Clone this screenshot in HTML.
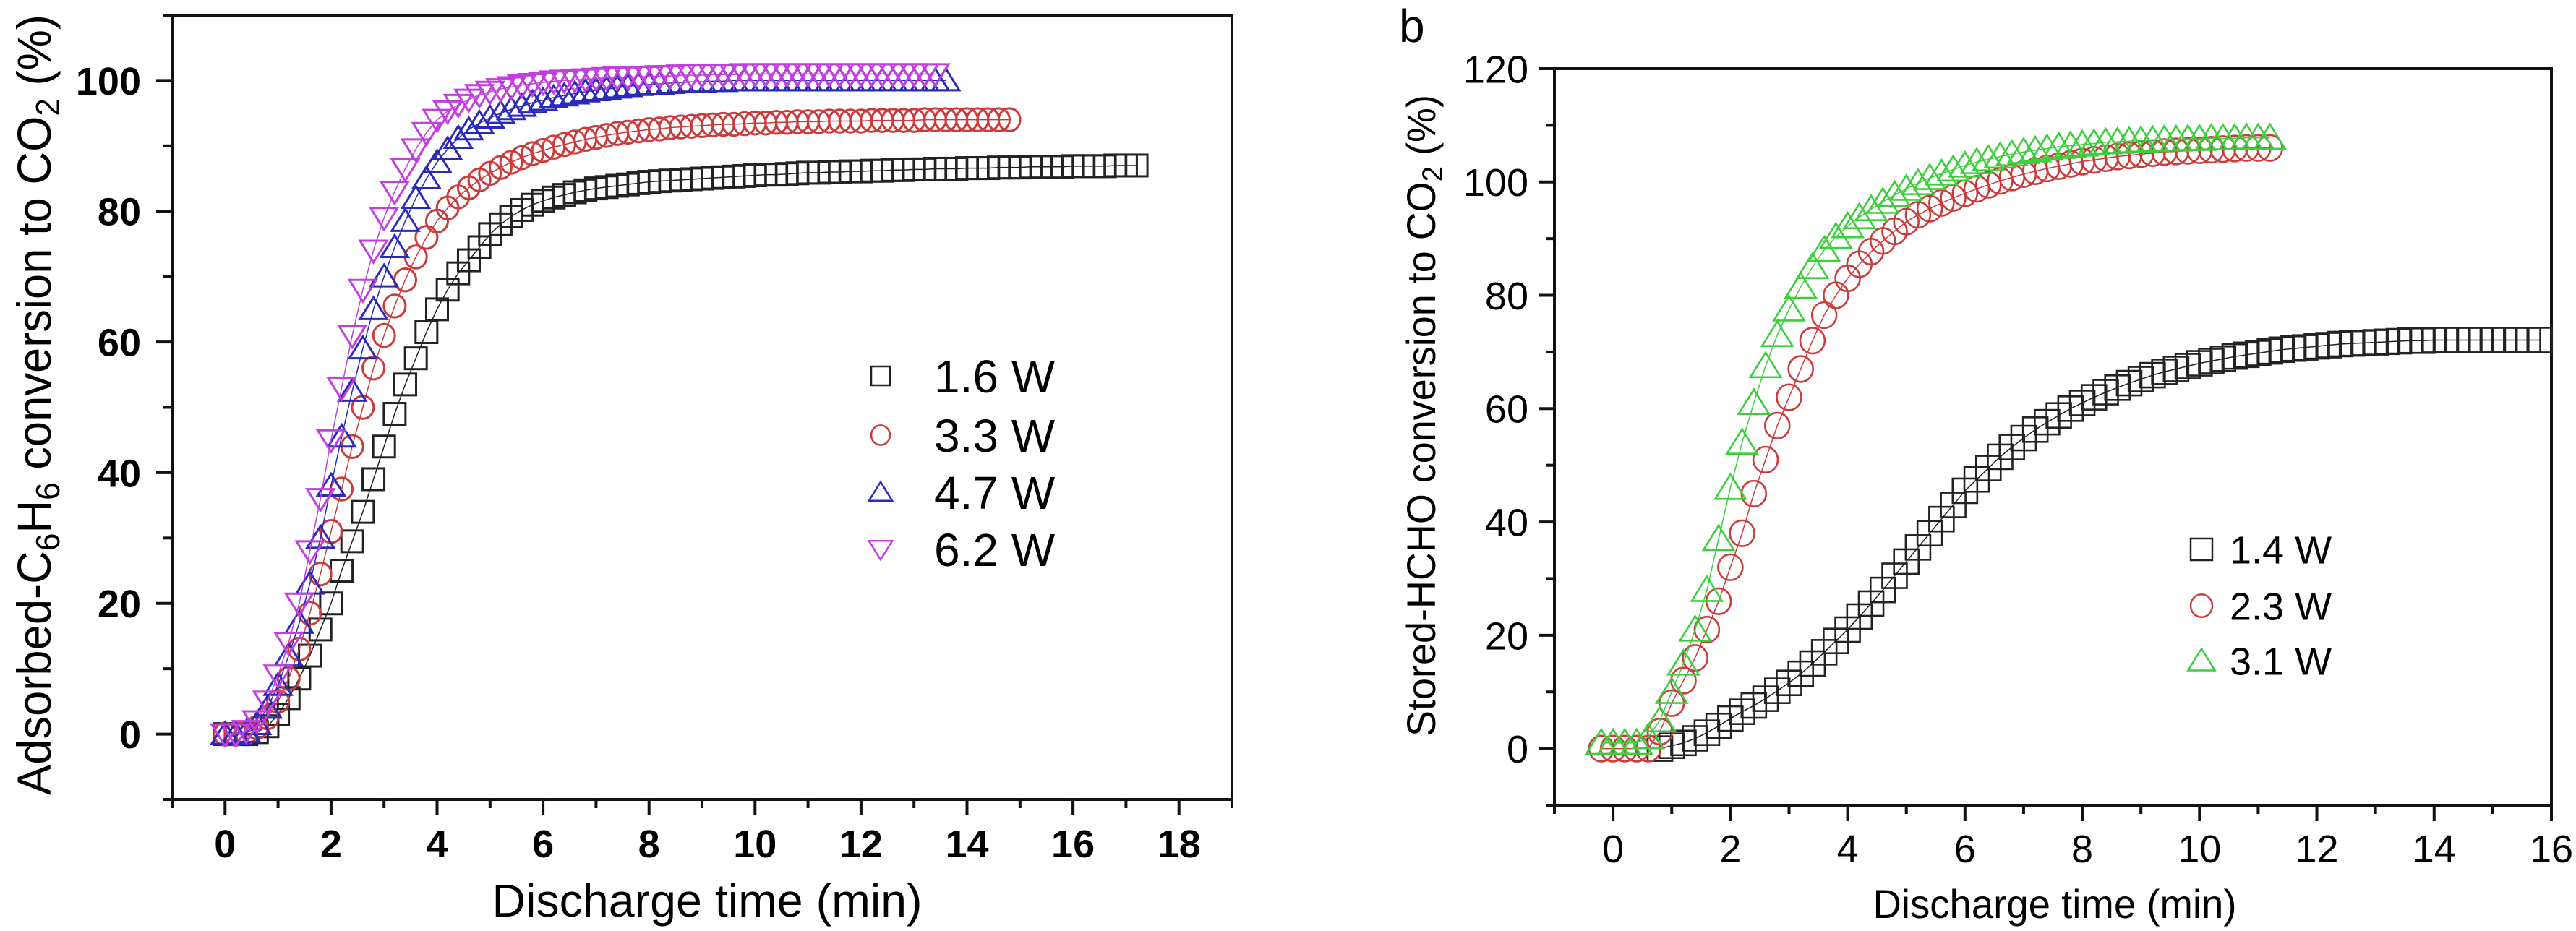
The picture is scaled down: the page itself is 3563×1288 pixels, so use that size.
<!DOCTYPE html>
<html><head><meta charset="utf-8"><style>
html,body{margin:0;padding:0;background:#fff;}
svg{display:block;}
text{font-family:"Liberation Sans Narrow","Liberation Sans",sans-serif;}
</style></head><body>
<svg id="fig" width="3563" height="1288" viewBox="0 0 3563 1288" xmlns="http://www.w3.org/2000/svg">
<rect width="3563" height="1288" fill="#fff"/>
<g id="pa"></g>
<g id="pb"></g>
<text x="1935" y="58" font-size="64" font-family="Liberation Sans, sans-serif">b</text>
<text x="978" y="1268" font-size="64" text-anchor="middle" textLength="595" lengthAdjust="spacingAndGlyphs">Discharge time (min)</text>
<text transform="translate(70,560) rotate(-90)" font-size="66" text-anchor="middle" textLength="1080" lengthAdjust="spacingAndGlyphs">Adsorbed-C<tspan font-size="46" dy="12">6</tspan><tspan dy="-12">H</tspan><tspan font-size="46" dy="12">6</tspan><tspan dy="-12"> conversion to CO</tspan><tspan font-size="46" dy="12">2</tspan><tspan dy="-12"> (%)</tspan></text>
<text x="2842" y="1270" font-size="56" text-anchor="middle" textLength="503" lengthAdjust="spacingAndGlyphs">Discharge time (min)</text>
<text transform="translate(1985,575) rotate(-90)" font-size="56" text-anchor="middle" textLength="888" lengthAdjust="spacingAndGlyphs">Stored-HCHO conversion to CO<tspan font-size="40" dy="10">2</tspan><tspan dy="-10"> (%)</tspan></text>
</svg>
<script>
// ---- Panel A data ----
const aXTicks = [0,2,4,6,8,10,12,14,16,18];
const aYTicks = [0,20,40,60,80,100];
const aLabels = ["1.6 W","3.3 W","4.7 W","6.2 W"];
const aStep = 0.2;
const a16 = [0,0,0,0.3,1.2,3,5.5,8.5,12,16,20,25,29.5,34,39,44,49,53.5,57.5,61.5,65,68,70.5,72.5,74.5,76.5,78,79.2,80.2,81,81.6,82.1,82.5,82.9,83.2,83.5,83.7,83.9,84.1,84.3,84.5,84.6,84.7,84.8,84.9,85,85.1,85.2,85.3,85.4,85.5,85.6,85.6,85.7,85.8,85.9,85.9,86,86,86.1,86.1,86.2,86.2,86.3,86.3,86.4,86.4,86.5,86.5,86.5,86.6,86.6,86.6,86.7,86.7,86.7,86.8,86.8,86.8,86.8,86.9,86.9,86.9,86.9,87,87,87];
const a33 = [0,0,0.2,1,2.5,5,8.5,13,18.5,24.5,31,37.5,44,50,56,61,65.5,69.5,73,76,78.5,80.5,82.2,83.6,84.8,85.8,86.7,87.5,88.2,88.8,89.3,89.8,90.2,90.6,91,91.3,91.6,91.9,92.1,92.3,92.5,92.6,92.8,92.9,93,93.1,93.2,93.3,93.3,93.4,93.5,93.5,93.6,93.6,93.7,93.7,93.7,93.8,93.8,93.8,93.8,93.9,93.9,93.9,93.9,93.9,94,94,94,94,94,94,94,94,94];
const a47 = [0,0,0.3,1.5,4,7.5,12,17,23,30,38,45.5,52.5,59,65,70,74.5,78.5,82,85,87.5,89.5,91.2,92.5,93.5,94.3,95,95.6,96.1,96.6,97,97.4,97.7,98,98.3,98.5,98.7,98.9,99.1,99.3,99.4,99.5,99.6,99.7,99.8,99.8,99.9,99.9,100,100,100,100,100,100,100,100,100,100,100,100,100,100,100,100,100,100,100,100,100];
const a62 = [0,0,0.5,2,5,9,14,20,28,36,45,53,61,68,74,79,83,86.5,89.5,92,94,95.3,96.3,97.1,97.8,98.3,98.7,99,99.3,99.5,99.7,99.9,100,100.1,100.2,100.3,100.4,100.5,100.5,100.6,100.6,100.7,100.7,100.8,100.8,100.8,100.9,100.9,100.9,101,101,101,101,101,101,101,101,101,101,101,101,101,101,101,101,101,101,101];
// ---- Panel B data ----
const bXTicks = [0,2,4,6,8,10,12,14,16];
const bYTicks = [0,20,40,60,80,100,120];
const bLabels = ["1.4 W","2.3 W","3.1 W"];
const bStep = 0.2;
const b14Start = 0.8;
const b14 = [0,0.5,1,1.8,2.8,4,5.3,6.5,7.6,8.8,10.2,11.6,13.2,15,17,19,21,23.3,25.6,28,30.5,33,35.5,38,40.5,43,45.5,47.5,49.5,51.5,53.2,54.8,56.3,57.6,58.8,60,61,62,62.9,63.7,64.5,65.2,65.9,66.5,67,67.5,68,68.4,68.8,69.2,69.5,69.8,70.1,70.4,70.6,70.8,71,71.2,71.4,71.5,71.6,71.7,71.8,71.9,72,72,72.1,72.1,72.1,72.1,72.1,72.1,72.1,72.1,72.1,72.1];
const b23Start = -0.2;
const b23 = [0,0,0,0,0,3,8,12,16,21,26,32,38,45,51,57,62,67,72,76.5,80,83,85.5,87.7,89.6,91.3,93,94.2,95.3,96.3,97.2,98,98.8,99.5,100.2,100.8,101.4,101.9,102.4,102.8,103.2,103.6,103.9,104.2,104.5,104.7,104.9,105.1,105.3,105.4,105.5,105.6,105.7,105.8,105.9,106,106,106];
const b31Start = -0.2;
const b31 = [1,1,1,1,2,5,10,15,21,28,37,46,54,61,67.5,73,77.5,81.5,85,88,90.3,92.2,93.8,95.2,96.5,97.7,98.8,99.8,100.7,101.5,102.2,102.9,103.5,104,104.5,104.9,105.3,105.6,105.9,106.2,106.4,106.6,106.8,107,107.1,107.2,107.3,107.4,107.5,107.5,107.6,107.6,107.7,107.7,107.7,107.8,107.8,107.8];

const NS="http://www.w3.org/2000/svg";
function mk(parent,tag,attrs){const e=document.createElementNS(NS,tag);for(const k in attrs)e.setAttribute(k,attrs[k]);parent.appendChild(e);return e;}

function marker(g,shape,cx,cy,s,color,sw){
  let e;
  if(shape==='sq'){e=mk(g,'rect',{x:cx-s/2,y:cy-s/2,width:s,height:s,fill:'none',stroke:color,'stroke-width':sw});}
  else if(shape==='ci'){e=mk(g,'ellipse',{cx:cx,cy:cy,rx:s/2,ry:s/2*1.05,fill:'none',stroke:color,'stroke-width':sw});}
  else if(shape==='up'){e=mk(g,'polygon',{points:`${cx},${cy-s*0.55} ${cx-s*0.62},${cy+s*0.45} ${cx+s*0.62},${cy+s*0.45}`,fill:'none',stroke:color,'stroke-width':sw});}
  else {e=mk(g,'polygon',{points:`${cx},${cy+s*0.55} ${cx-s*0.62},${cy-s*0.45} ${cx+s*0.62},${cy-s*0.45}`,fill:'none',stroke:color,'stroke-width':sw});}
  return e;
}

function panel(g,cfg){
  const X=v=>cfg.L+(v-cfg.xmin)/(cfg.xmax-cfg.xmin)*(cfg.R-cfg.L);
  const Y=v=>cfg.B-(v-cfg.ymin)/(cfg.ymax-cfg.ymin)*(cfg.B-cfg.T);
  const fr=mk(g,'rect',{x:cfg.L,y:cfg.T,width:cfg.R-cfg.L,height:cfg.B-cfg.T,fill:'none',stroke:'#111','stroke-width':4});
  
  
  for(let v=Math.ceil(cfg.xmin);v<=cfg.xmax;v+=1){
    const major=cfg.xticks.includes(v);
    const t=mk(g,'line',{x1:X(v),x2:X(v),y1:cfg.B,y2:cfg.B+(major?22:12),stroke:'#111','stroke-width':4});
    
    
  }
  cfg.xticks.forEach(v=>{
    const t=mk(g,'text',{x:X(v),y:cfg.xlabY,'font-size':cfg.tickFs,'text-anchor':'middle','font-weight':cfg.bold?'bold':'normal'});
    t.textContent=v;
    
    
  });
  for(let v=cfg.ymin;v<=cfg.ymax;v+=10){
    const major=cfg.yticks.includes(v);
    const t=mk(g,'line',{x1:cfg.L,x2:cfg.L-(major?22:12),y1:Y(v),y2:Y(v),stroke:'#111','stroke-width':4});
    
    
  }
  cfg.yticks.forEach(v=>{
    const t=mk(g,'text',{x:cfg.ylabX,y:Y(v)+cfg.tickFs*0.36,'font-size':cfg.tickFs,'text-anchor':'end','font-weight':cfg.bold?'bold':'normal'});
    t.textContent=v;
    
    
  });
  cfg.series.forEach((s,si)=>{
    const sg=mk(g,'g',{});
    
    
    const pts=s.values.map((v,i)=>[X(s.start+i*s.step),Y(v)]);
    mk(sg,'polyline',{points:pts.map(p=>p.join(',')).join(' '),fill:'none',stroke:s.color,'stroke-width':1.5});
    pts.forEach(p=>{
      const m=marker(sg,s.shape,p[0],p[1],cfg.ms,s.color,cfg.sw);
      
      
    });
    const lg=mk(g,'g',{});
    
    
    const ly=cfg.legY[si];
    marker(lg,s.shape,cfg.legMX,ly,cfg.legMs,s.color,2.5);
    const lt=mk(lg,'text',{x:cfg.legTX,y:ly+cfg.legFs*0.36,'font-size':cfg.legFs});
    lt.textContent=s.label;
  });
}

panel(document.getElementById('pa'),{
  L:238,R:1704,T:21,B:1106,xmin:-1,xmax:19,ymin:-10,ymax:110,
  xticks:aXTicks,yticks:aYTicks,xlabY:1186,ylabX:195,tickFs:54,bold:true,ms:30,sw:3,
  legMX:1218,legTX:1292,legY:[520,602,681,760],legMs:26,legFs:64,
  series:[
    {label:aLabels[0],values:a16,start:0,step:aStep,color:'#222',shape:'sq'},
    {label:aLabels[1],values:a33,start:0,step:aStep,color:'#cc3b3b',shape:'ci'},
    {label:aLabels[2],values:a47,start:0,step:aStep,color:'#2a2ab8',shape:'up'},
    {label:aLabels[3],values:a62,start:0,step:aStep,color:'#c23ee0',shape:'dn'}
  ]
});
panel(document.getElementById('pb'),{
  L:2150,R:3529,T:95,B:1114,xmin:-1,xmax:16,ymin:-10,ymax:120,
  xticks:bXTicks,yticks:bYTicks,xlabY:1193,ylabX:2114,tickFs:54,bold:false,ms:34,sw:2.6,
  legMX:3045,legTX:3084,legY:[760,838,914],legMs:30,legFs:54,
  series:[
    {label:bLabels[0],values:b14,start:b14Start,step:bStep,color:'#222',shape:'sq'},
    {label:bLabels[1],values:b23,start:b23Start,step:bStep,color:'#cc3b3b',shape:'ci'},
    {label:bLabels[2],values:b31,start:b31Start,step:bStep,color:'#3ccf3c',shape:'up'}
  ]
});
</script>
</body></html>
